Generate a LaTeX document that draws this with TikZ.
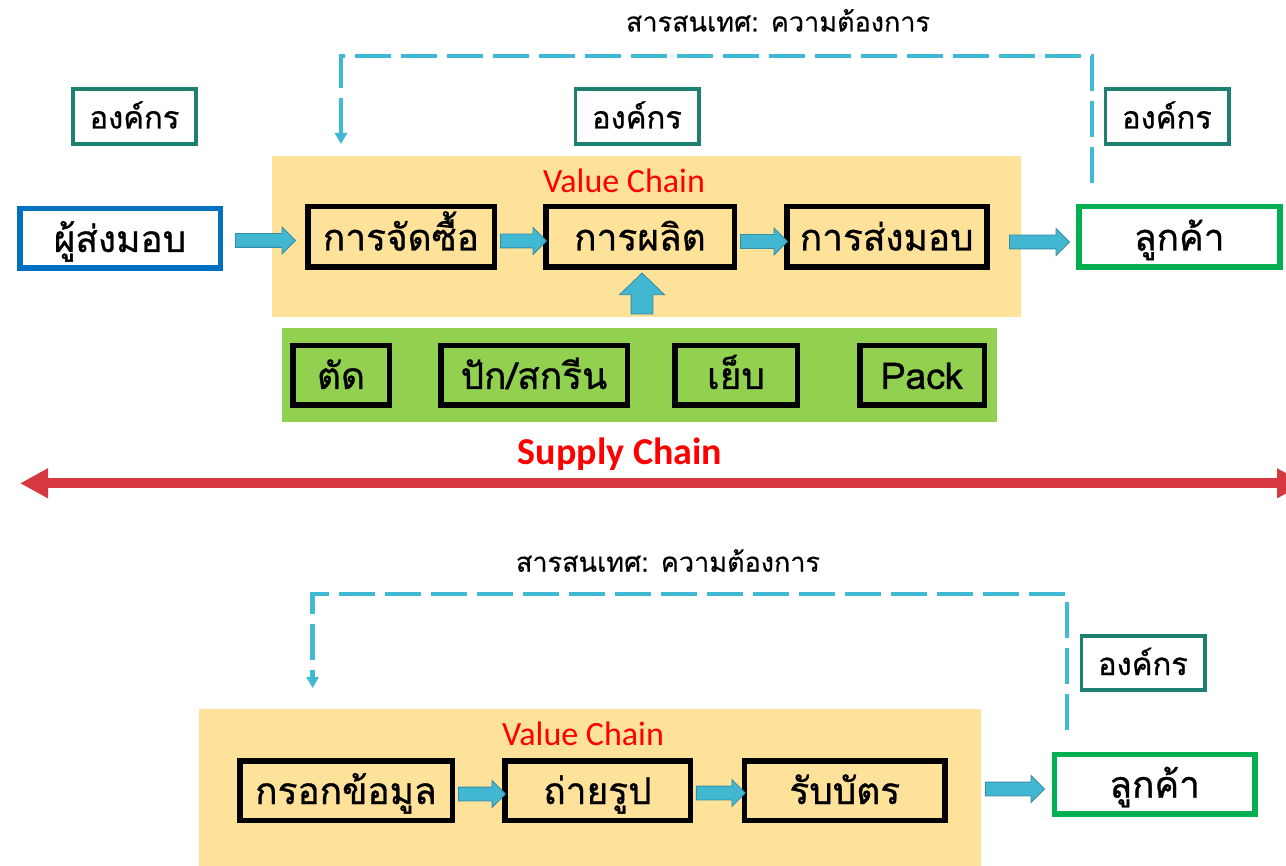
\documentclass[tikz,border=0pt]{standalone}
\usepackage{fontspec}
\newfontfamily\thaifont[Script=Thai,FakeBold=0.8]{Loma}
\newfontfamily\thaititle[Script=Thai,FakeBold=0.4]{Loma}
\newfontfamily\calfont{Carlito}
\usetikzlibrary{shapes.arrows,arrows.meta,calc}
\definecolor{vcyellow}{RGB}{255,226,153}
\definecolor{procgreen}{RGB}{146,208,80}
\definecolor{orgteal}{RGB}{30,128,112}
\definecolor{supblue}{RGB}{0,112,192}
\definecolor{custgreen}{RGB}{0,176,80}
\definecolor{arrfill}{RGB}{66,183,209}
\definecolor{arredge}{RGB}{52,140,165}
\definecolor{dashblue}{RGB}{64,186,212}
\definecolor{scred}{RGB}{214,56,64}
\begin{document}
\begin{tikzpicture}[x=1pt,y=-1pt,
  bigbox/.style={draw=black, line width=5.5pt, inner sep=0pt,
    font=\thaifont\fontsize{37}{42}\selectfont, text height=27pt, text depth=0pt,
    minimum height=60pt},
  orgbox/.style={draw=orgteal, line width=3.7pt, inner sep=0pt,
    font=\thaifont\fontsize{31}{36}\selectfont, text height=24pt, text depth=0pt,
    minimum width=123.3pt, minimum height=55.3pt},
  harrow/.style={single arrow, draw=arredge, fill=arrfill, line width=0.8pt,
    inner xsep=0pt, inner ysep=6.5pt, single arrow head extend=6.5pt,
    single arrow tip angle=90},
  varrow/.style={single arrow, draw=arredge, fill=arrfill, line width=0.8pt,
    inner xsep=0pt, inner ysep=10.5pt, single arrow head extend=11.5pt,
    single arrow tip angle=92, rotate=90},
  infoline/.style={draw=dashblue, line width=4.5pt, dash pattern=on 36pt off 10pt,
    -{Triangle[length=11pt,width=12pt]}},
  bgpanel/.style={inner sep=0pt, anchor=north west},
  titletext/.style={anchor=base, font=\thaititle\fontsize{27}{32}\selectfont},
  vctext/.style={anchor=base, text=red, font=\calfont\fontsize{34}{38}\selectfont}
]
\useasboundingbox (0,0) rectangle (1286,866);
\clip (0,0) rectangle (1286,866);
\fill[white] (0,0) rectangle (1286,866);

% ---------- top diagram ----------
\node[bgpanel, fill=vcyellow, minimum width=749pt, minimum height=161pt] (vc1) at (272,156) {};
\node[bgpanel, fill=procgreen, minimum width=715pt, minimum height=94pt] (proc) at (282,328) {};

\node[titletext] (info1) at (778,31.5) {สารสนเทศ: ความต้องการ};
\node[vctext] (vct1) at (624,192.7) {Value Chain};

\node[orgbox] (org1) at (134.5,116.5) {องค์กร};
\node[orgbox] (org2) at (637,116.5) {องค์กร};
\node[orgbox] (org3) at (1167,116.5) {องค์กร};

\node[bigbox, draw=supblue, fill=white, minimum width=200.5pt, minimum height=59.5pt] (supplier) at (120,238.5) {ผู้ส่งมอบ};
\node[bigbox, minimum width=186.5pt, minimum height=60.5pt] (buy) at (401,237) {การจัดซื้อ};
\node[bigbox, minimum width=188.5pt, minimum height=60.5pt] (prod) at (640,237) {การผลิต};
\node[bigbox, minimum width=200pt, minimum height=60.5pt] (deliv) at (886.75,237) {การส่งมอบ};
\node[bigbox, draw=custgreen, fill=white, minimum width=201pt, minimum height=60.5pt] (cust1) at (1179.3,237) {ลูกค้า};

\node[bigbox, minimum width=96.5pt, minimum height=59.5pt] (cut) at (341,375.5) {ตัด};
\node[bigbox, minimum width=186.5pt, minimum height=59.5pt] (embroid) at (534,375.5) {ปัก/สกรีน};
\node[bigbox, minimum width=122.5pt, minimum height=59.5pt] (sew) at (736,375.5) {เย็บ};
\node[bigbox, minimum width=124.5pt, minimum height=59.5pt] (pack) at (922,375.5) {Pack};

% block arrows
\node[harrow, minimum height=60pt] (a1) at (262,240.5) {};
\node[harrow, minimum height=46pt] (a2) at ($(buy.east)!0.5!(prod.west)+(0,4)$) {};
\node[harrow, minimum height=47pt] (a3) at ($(prod.east)!0.5!(deliv.west)+(0,4.5)$) {};
\node[harrow, minimum height=60pt] (a4) at (1036,242) {};
\node[varrow, minimum height=41pt] (aup) at (642,298.8) {};

% information flow
\coordinate (i1s) at (1092,183);
\coordinate (i1e) at (341,144);
\coordinate (i1top) at (0,56);
\draw[infoline] (i1s) -- (i1s |- i1top) -- (i1e |- i1top) -- (i1e);

% supply chain arrow
\coordinate (scl) at (20,483.3);
\coordinate (scr) at (1305,483.3);
\draw[scred, line width=10pt, {Triangle[length=28pt,width=28pt]}-{Triangle[length=28pt,width=28pt]}] (scl) -- (scr);
\node[anchor=base, text=red, font=\calfont\bfseries\fontsize{38}{42}\selectfont] (sc) at (620,464.3) {Supply Chain};

% ---------- bottom diagram ----------
\node[bgpanel, fill=vcyellow, minimum width=782pt, minimum height=161pt] (vc2) at (199,709) {};
\node[titletext] (info2) at (668,571.7) {สารสนเทศ: ความต้องการ};
\node[vctext] (vct2) at (583,745) {Value Chain};

\node[orgbox, minimum height=54.3pt] (org4) at (1143,663) {องค์กร};

\node[bigbox, minimum width=212.5pt, minimum height=59.5pt] (fill) at (346,790.5) {กรอกข้อมูล};
\node[bigbox, minimum width=185.5pt, minimum height=59.5pt] (photo) at (597.5,790.5) {ถ่ายรูป};
\node[bigbox, minimum width=200.5pt, minimum height=59.5pt] (card) at (844.8,790.5) {รับบัตร};
\node[bigbox, draw=custgreen, fill=white, minimum width=200.5pt, minimum height=59.5pt] (cust2) at (1154.7,784.2) {ลูกค้า};

\node[harrow, minimum height=47pt] (b1) at ($(fill.east)!0.5!(photo.west)+(0,3.5)$) {};
\node[harrow, minimum height=49pt] (b2) at ($(photo.east)!0.5!(card.west)+(0,2.5)$) {};
\node[harrow, minimum height=59pt] (b3) at (1011.5,789) {};

\coordinate (i2s) at (1067,730);
\coordinate (i2e) at (312.6,688);
\coordinate (i2top) at (0,594);
\draw[infoline] (i2s) -- (i2s |- i2top) -- (i2e |- i2top) -- (i2e);
\end{tikzpicture}
\end{document}
